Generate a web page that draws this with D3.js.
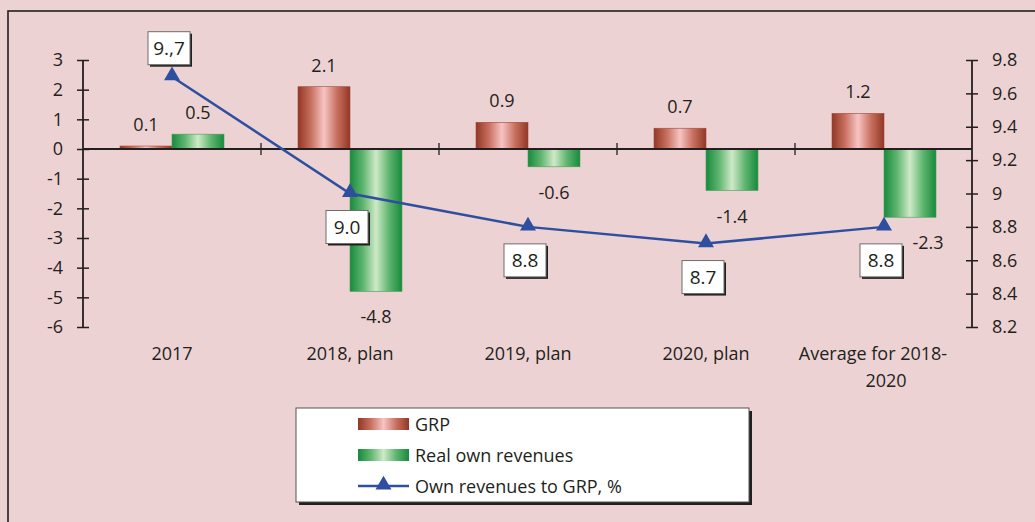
<!DOCTYPE html>
<html>
<head>
<meta charset="utf-8">
<script src="https://cdn.jsdelivr.net/npm/d3@7"></script>
<style>
  html, body { margin: 0; padding: 0; background: #edd2d3; }
  svg { display: block; }
  text { font-family: "Open Sans", "Noto Sans", sans-serif; fill: #231f20; }
</style>
</head>
<body>
<svg id="chart" width="1035" height="522"></svg>
<script>
// data
var categories = ["2017", "2018, plan", "2019, plan", "2020, plan", "Average for 2018-2020"];
var grp = [0.1, 2.1, 0.9, 0.7, 1.2];
var realRevenues = [0.5, -4.8, -0.6, -1.4, -2.3];
var revenueShare = [9.7, 9.0, 8.8, 8.7, 8.8];
var shareLabels = ["9.,7", "9.0", "8.8", "8.7", "8.8"];
var leftTicks = [3, 2, 1, 0, -1, -2, -3, -4, -5, -6];
var rightTicks = [9.8, 9.6, 9.4, 9.2, 9, 8.8, 8.6, 8.4, 8.2];
var seriesNames = ["GRP", "Real own revenues", "Own revenues to GRP, %"];

var svg = d3.select("#chart");
var ink = "#231f20";
var blue = "#2e4f9f";

// gradients for the cylinder-like bars
var defs = svg.append("defs");
function grad(id, edge, mid, center) {
    var g = defs.append("linearGradient").attr("id", id)
        .attr("x1", "0%").attr("x2", "100%").attr("y1", "0%").attr("y2", "0%");
    g.append("stop").attr("offset", "0%").attr("stop-color", edge);
    g.append("stop").attr("offset", "25%").attr("stop-color", mid);
    g.append("stop").attr("offset", "50%").attr("stop-color", center);
    g.append("stop").attr("offset", "75%").attr("stop-color", mid);
    g.append("stop").attr("offset", "100%").attr("stop-color", edge);
}
grad("gGrp", "#923726", "#c8705f", "#f7c4c4");
grad("gReal", "#178a3c", "#5fb56f", "#cfe9c8");

// outer frame
svg.append("rect").attr("x", 8).attr("y", 11).attr("width", 1040).attr("height", 530)
    .attr("fill", "none").attr("stroke", ink).attr("stroke-width", 1.6);

// scales
var x = d3.scaleBand().domain(categories).range([83, 973]).padding(0);
var inner = 104;
var x1 = d3.scaleBand().domain([0, 1]).range([0, inner]);
var y = d3.scaleLinear().domain([-6, 3]).range([327, 60]);
var y2 = d3.scaleLinear().domain([8.2, 9.8]).range([327, 60]);
function groupLeft(c) { return x(c) + (x.bandwidth() - inner) / 2; }
function center(c) { return x(c) + x.bandwidth() / 2; }

// left axis
var leftAxis = svg.append("g").attr("transform", "translate(83,0)")
    .call(d3.axisLeft(y).tickValues(leftTicks).tickSize(6).tickPadding(14).tickFormat(function(d) { return String(d); }));
leftAxis.select(".domain").remove();
leftAxis.selectAll(".tick line").attr("x1", 6).attr("x2", -6).attr("stroke", ink).attr("stroke-width", 1.5);
leftAxis.selectAll(".tick text").attr("font-size", 18).style("font-family", null);
leftAxis.append("line").attr("y1", y(3)).attr("y2", y(-6)).attr("stroke", ink).attr("stroke-width", 1.8);

// right axis
var rightAxis = svg.append("g").attr("transform", "translate(972,0)")
    .call(d3.axisRight(y2).tickValues(rightTicks).tickSize(6).tickPadding(14).tickFormat(function(d) { return String(+d.toFixed(1)); }));
rightAxis.select(".domain").remove();
rightAxis.selectAll(".tick line").attr("x1", -6).attr("x2", 6).attr("stroke", ink).attr("stroke-width", 1.5);
rightAxis.selectAll(".tick text").attr("font-size", 18).style("font-family", null);
rightAxis.append("line").attr("y1", y2(9.8)).attr("y2", y2(8.2)).attr("stroke", ink).attr("stroke-width", 1.8);

// bars
var bars = svg.append("g");
function drawBars(vals, idx, fillId, edge) {
    bars.selectAll("rect.s" + idx).data(vals).enter().append("rect")
        .attr("class", "s" + idx)
        .attr("x", function(d, i) { return groupLeft(categories[i]) + x1(idx); })
        .attr("width", x1.bandwidth())
        .attr("y", function(d) { return y(Math.max(0, d)); })
        .attr("height", function(d) { return Math.abs(y(d) - y(0)); })
        .attr("fill", "url(#" + fillId + ")")
        .attr("stroke", edge).attr("stroke-width", 0.6);
}
drawBars(grp, 0, "gGrp", "#a0493a");
drawBars(realRevenues, 1, "gReal", "#4d9a5e");

// zero line and category separators
svg.append("line").attr("x1", 83).attr("x2", 972).attr("y1", y(0)).attr("y2", y(0))
    .attr("stroke", ink).attr("stroke-width", 2);
svg.append("g").selectAll("line").data(categories.slice(1)).enter().append("line")
    .attr("x1", function(c) { return x(c); }).attr("x2", function(c) { return x(c); })
    .attr("y1", y(0) - 6).attr("y2", y(0) + 6)
    .attr("stroke", ink).attr("stroke-width", 1.3);

// bar value labels
function barLabels(vals, idx) {
    svg.append("g").selectAll("text").data(vals).enter().append("text")
        .attr("text-anchor", "middle").attr("font-size", 18)
        .attr("x", function(d, i) {
            var cx = groupLeft(categories[i]) + x1(idx) + x1.bandwidth() / 2;
            return (idx === 1 && i === vals.length - 1) ? cx + 18 : cx;
        })
        .attr("y", function(d) { return d >= 0 ? y(d) - 15 : y(d) + 32; })
        .text(function(d) { return d.toFixed(1); });
}
barLabels(grp, 0);
barLabels(realRevenues, 1);

// line series
var line = d3.line()
    .x(function(d, i) { return center(categories[i]); })
    .y(function(d) { return y2(d); });
svg.append("path").datum(revenueShare).attr("d", line)
    .attr("fill", "none").attr("stroke", blue).attr("stroke-width", 2.5);
var tri = d3.symbol().type(d3.symbolTriangle).size(110);
svg.append("g").selectAll("path").data(revenueShare).enter().append("path")
    .attr("d", tri)
    .attr("transform", function(d, i) { return "translate(" + center(categories[i]) + "," + (y2(d) - 1) + ")"; })
    .attr("fill", blue);

// boxed line labels
var boxes = svg.append("g").selectAll("g").data(revenueShare).enter().append("g")
    .attr("transform", function(d, i) {
        var cy = i === 0 ? y2(d) - 29 : y2(d) + 33;
        return "translate(" + (center(categories[i]) - 3) + "," + cy + ")";
    });
boxes.append("rect").attr("x", -19).attr("y", -14).attr("width", 42).attr("height", 33).attr("fill", "#231f20");
boxes.append("rect").attr("x", -21).attr("y", -16).attr("width", 42).attr("height", 33)
    .attr("fill", "#fff").attr("stroke", "#6d6d6d").attr("stroke-width", 1);
boxes.append("text").attr("text-anchor", "middle").attr("y", 7).attr("font-size", 19)
    .text(function(d, i) { return shareLabels[i]; });

// category labels
var catG = svg.append("g").selectAll("text").data(categories).enter().append("text")
    .attr("text-anchor", "middle").attr("font-size", 18)
    .attr("x", function(c) { return center(c); }).attr("y", 360);
catG.each(function(c) {
    var t = d3.select(this);
    if (c.indexOf("Average") === 0) {
        t.append("tspan").attr("x", center(c) - 11).text("Average for 2018-");
        t.append("tspan").attr("x", center(c) + 2).attr("dy", 27).text("2020");
    } else {
        t.text(c);
    }
});

// legend
var lg = svg.append("g").attr("transform", "translate(296,408)");
lg.append("rect").attr("x", 3).attr("y", 3).attr("width", 453).attr("height", 94).attr("fill", "#231f20");
lg.append("rect").attr("width", 453).attr("height", 94).attr("fill", "#fff").attr("stroke", "#555").attr("stroke-width", 1);
var rows = [16, 47, 78];
lg.append("rect").attr("x", 62).attr("y", rows[0] - 6).attr("width", 51).attr("height", 12).attr("fill", "url(#gGrp)");
lg.append("rect").attr("x", 62).attr("y", rows[1] - 6).attr("width", 51).attr("height", 12).attr("fill", "url(#gReal)");
lg.append("line").attr("x1", 62).attr("x2", 113).attr("y1", rows[2]).attr("y2", rows[2])
    .attr("stroke", blue).attr("stroke-width", 2.5);
lg.append("path").attr("d", tri).attr("transform", "translate(87.5," + (rows[2] - 1) + ")").attr("fill", blue);
lg.selectAll("text.lt").data(seriesNames).enter().append("text")
    .attr("class", "lt").attr("x", 119).attr("y", function(d, i) { return rows[i] + 6.5; })
    .attr("font-size", 18).text(function(d) { return d; });
</script>
</body>
</html>
